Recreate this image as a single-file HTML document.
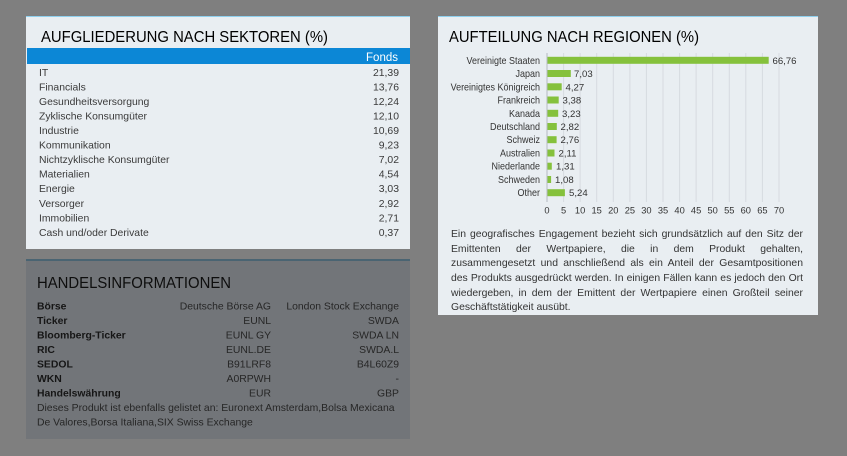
<!DOCTYPE html>
<html><head><meta charset="utf-8">
<style>
html,body{margin:0;padding:0;}
body{width:847px;height:456px;background:#7f7f7f;position:relative;overflow:hidden;font-family:"Liberation Sans",Arial,sans-serif;}
svg{position:absolute;left:0;top:0;}
.pl{position:absolute;left:451px;width:352px;font-size:10.4px;line-height:12px;color:#333;white-space:nowrap;text-align:justify;text-align-last:justify;}
.pl.last{text-align:left;text-align-last:left;}
</style></head>
<body>
<svg width="847" height="456" viewBox="0 0 847 456" font-family="Liberation Sans, Arial, sans-serif">
  <!-- Left panel -->
  <rect x="26" y="16" width="384" height="233" fill="#e9eef2"/>
  <rect x="26" y="16" width="384" height="1" fill="#8fd0ee"/>
  <text x="41" y="42" font-size="16" fill="#000" textLength="287" lengthAdjust="spacingAndGlyphs">AUFGLIEDERUNG NACH SEKTOREN (%)</text>
  <rect x="27" y="48" width="383" height="16" fill="#0c87d6"/>
  <text x="398" y="61" font-size="11.5" fill="#fff" text-anchor="end">Fonds</text>
  <g font-size="10.4" fill="#3a3a3a">
    <text x="39" y="75.8">IT</text><text x="399" y="75.8" text-anchor="end">21,39</text>
    <text x="39" y="90.35">Financials</text><text x="399" y="90.35" text-anchor="end">13,76</text>
    <text x="39" y="104.9">Gesundheitsversorgung</text><text x="399" y="104.9" text-anchor="end">12,24</text>
    <text x="39" y="119.45">Zyklische Konsumgüter</text><text x="399" y="119.45" text-anchor="end">12,10</text>
    <text x="39" y="134">Industrie</text><text x="399" y="134" text-anchor="end">10,69</text>
    <text x="39" y="148.55">Kommunikation</text><text x="399" y="148.55" text-anchor="end">9,23</text>
    <text x="39" y="163.1">Nichtzyklische Konsumgüter</text><text x="399" y="163.1" text-anchor="end">7,02</text>
    <text x="39" y="177.65">Materialien</text><text x="399" y="177.65" text-anchor="end">4,54</text>
    <text x="39" y="192.2">Energie</text><text x="399" y="192.2" text-anchor="end">3,03</text>
    <text x="39" y="206.75">Versorger</text><text x="399" y="206.75" text-anchor="end">2,92</text>
    <text x="39" y="221.3">Immobilien</text><text x="399" y="221.3" text-anchor="end">2,71</text>
    <text x="39" y="235.85">Cash und/oder Derivate</text><text x="399" y="235.85" text-anchor="end">0,37</text>
  </g>

  <!-- Bottom-left panel (dimmed) -->
  <rect x="26" y="260" width="384" height="179" fill="#727579"/>
  <rect x="26" y="259" width="384" height="2" fill="#4a6472"/>
  <text x="37" y="288" font-size="15.5" fill="#0e0e0e" textLength="194" lengthAdjust="spacingAndGlyphs">HANDELSINFORMATIONEN</text>
  <g font-size="10.4" fill="#161616" font-weight="bold">
    <text x="37" y="309.4">Börse</text>
    <text x="37" y="323.9">Ticker</text>
    <text x="37" y="338.4">Bloomberg-Ticker</text>
    <text x="37" y="352.9">RIC</text>
    <text x="37" y="367.4">SEDOL</text>
    <text x="37" y="381.9">WKN</text>
    <text x="37" y="396.4">Handelswährung</text>
  </g>
  <g font-size="10.4" fill="#262626" text-anchor="end">
    <text x="271" y="309.4">Deutsche Börse AG</text><text x="399" y="309.4">London Stock Exchange</text>
    <text x="271" y="323.9">EUNL</text><text x="399" y="323.9">SWDA</text>
    <text x="271" y="338.4">EUNL GY</text><text x="399" y="338.4">SWDA LN</text>
    <text x="271" y="352.9">EUNL.DE</text><text x="399" y="352.9">SWDA.L</text>
    <text x="271" y="367.4">B91LRF8</text><text x="399" y="367.4">B4L60Z9</text>
    <text x="271" y="381.9">A0RPWH</text><text x="399" y="381.9">-</text>
    <text x="271" y="396.4">EUR</text><text x="399" y="396.4">GBP</text>
  </g>
  <g font-size="10.4" fill="#262626">
    <text x="37" y="410.9">Dieses Produkt ist ebenfalls gelistet an: Euronext Amsterdam,Bolsa Mexicana</text>
    <text x="37" y="425.4">De Valores,Borsa Italiana,SIX Swiss Exchange</text>
  </g>

  <!-- Right panel -->
  <rect x="438" y="16" width="380" height="299" fill="#e9eef2"/>
  <rect x="438" y="16" width="380" height="1" fill="#8fd0ee"/>
  <text x="449" y="42" font-size="16" fill="#000" textLength="250" lengthAdjust="spacingAndGlyphs">AUFTEILUNG NACH REGIONEN (%)</text>

  <!-- gridlines -->
  <g stroke="#d6dbe0" stroke-width="1">
    <line x1="563.6" y1="53" x2="563.6" y2="202"/>
    <line x1="580.1" y1="53" x2="580.1" y2="202"/>
    <line x1="596.7" y1="53" x2="596.7" y2="202"/>
    <line x1="613.3" y1="53" x2="613.3" y2="202"/>
    <line x1="629.9" y1="53" x2="629.9" y2="202"/>
    <line x1="646.4" y1="53" x2="646.4" y2="202"/>
    <line x1="663.0" y1="53" x2="663.0" y2="202"/>
    <line x1="679.6" y1="53" x2="679.6" y2="202"/>
    <line x1="696.1" y1="53" x2="696.1" y2="202"/>
    <line x1="712.7" y1="53" x2="712.7" y2="202"/>
    <line x1="729.3" y1="53" x2="729.3" y2="202"/>
    <line x1="745.8" y1="53" x2="745.8" y2="202"/>
    <line x1="762.4" y1="53" x2="762.4" y2="202"/>
    <line x1="779.0" y1="53" x2="779.0" y2="202"/>
  </g>
  <line x1="547" y1="53" x2="547" y2="202" stroke="#b5bbc1" stroke-width="1"/>

  <!-- bars -->
  <g fill="#85c13c">
    <rect x="547.5" y="56.8" width="221.2" height="7"/>
    <rect x="547.5" y="70.0" width="23.3" height="7"/>
    <rect x="547.5" y="83.3" width="14.2" height="7"/>
    <rect x="547.5" y="96.5" width="11.2" height="7"/>
    <rect x="547.5" y="109.8" width="10.7" height="7"/>
    <rect x="547.5" y="123.0" width="9.3" height="7"/>
    <rect x="547.5" y="136.2" width="9.1" height="7"/>
    <rect x="547.5" y="149.5" width="7.0" height="7"/>
    <rect x="547.5" y="162.7" width="4.3" height="7"/>
    <rect x="547.5" y="176.0" width="3.6" height="7"/>
    <rect x="547.5" y="189.2" width="17.4" height="7"/>
  </g>

  <!-- category labels -->
  <g font-size="10" fill="#333" text-anchor="end" transform="translate(540,0) scale(0.9,1)">
    <text x="0" y="63.8">Vereinigte Staaten</text>
    <text x="0" y="77.0">Japan</text>
    <text x="0" y="90.3">Vereinigtes Königreich</text>
    <text x="0" y="103.5">Frankreich</text>
    <text x="0" y="116.8">Kanada</text>
    <text x="0" y="130.0">Deutschland</text>
    <text x="0" y="143.2">Schweiz</text>
    <text x="0" y="156.5">Australien</text>
    <text x="0" y="169.7">Niederlande</text>
    <text x="0" y="183.0">Schweden</text>
    <text x="0" y="196.2">Other</text>
  </g>
  <!-- value labels -->
  <g font-size="9.6" fill="#333">
    <text x="772.5" y="63.8">66,76</text>
    <text x="574" y="77.0">7,03</text>
    <text x="565.5" y="90.3">4,27</text>
    <text x="562.5" y="103.5">3,38</text>
    <text x="562" y="116.8">3,23</text>
    <text x="560.5" y="130.0">2,82</text>
    <text x="560.5" y="143.2">2,76</text>
    <text x="558.5" y="156.5">2,11</text>
    <text x="556" y="169.7">1,31</text>
    <text x="555" y="183.0">1,08</text>
    <text x="569" y="196.2">5,24</text>
  </g>
  <!-- tick labels -->
  <g font-size="9.3" fill="#333" text-anchor="middle">
    <text x="547" y="213.5">0</text>
    <text x="563.6" y="213.5">5</text>
    <text x="580.1" y="213.5">10</text>
    <text x="596.7" y="213.5">15</text>
    <text x="613.3" y="213.5">20</text>
    <text x="629.9" y="213.5">25</text>
    <text x="646.4" y="213.5">30</text>
    <text x="663.0" y="213.5">35</text>
    <text x="679.6" y="213.5">40</text>
    <text x="696.1" y="213.5">45</text>
    <text x="712.7" y="213.5">50</text>
    <text x="729.3" y="213.5">55</text>
    <text x="745.8" y="213.5">60</text>
    <text x="762.4" y="213.5">65</text>
    <text x="779.0" y="213.5">70</text>
  </g>
</svg>

<div class="pl" style="top:229.1px">Ein geografisches Engagement bezieht sich grundsätzlich auf den Sitz der</div>
<div class="pl" style="top:243.7px">Emittenten der Wertpapiere, die in dem Produkt gehalten,</div>
<div class="pl" style="top:258.3px">zusammengesetzt und anschließend als ein Anteil der Gesamtpositionen</div>
<div class="pl" style="top:272.9px">des Produkts ausgedrückt werden. In einigen Fällen kann es jedoch den Ort</div>
<div class="pl" style="top:287.5px">wiedergeben, in dem der Emittent der Wertpapiere einen Großteil seiner</div>
<div class="pl last" style="top:302.1px">Geschäftstätigkeit ausübt.</div>
</body></html>
